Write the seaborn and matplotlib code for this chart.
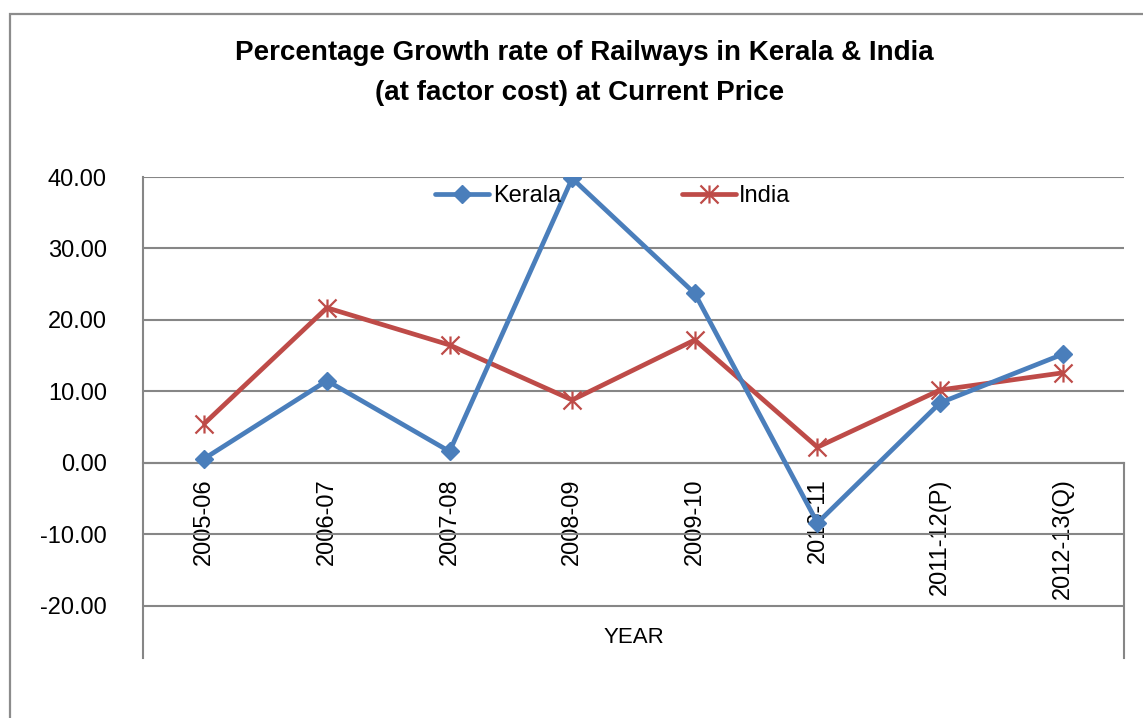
import numpy as np
import pandas as pd
import seaborn as sns
import matplotlib
matplotlib.use("Agg")
import matplotlib.pyplot as plt
from matplotlib.path import Path
from matplotlib.patches import Rectangle
from matplotlib.ticker import FuncFormatter

# ---- data ----
years = ["2005-06", "2006-07", "2007-08", "2008-09", "2009-10", "2010-11", "2011-12(P)", "2012-13(Q)"]
kerala = [0.6, 11.5, 1.6, 39.8, 23.7, -8.4, 8.4, 15.2]
india = [5.5, 21.7, 16.5, 8.8, 17.2, 2.2, 10.2, 12.6]
yticks = [-20, -10, 0, 10, 20, 30, 40]

title_l1 = "Percentage Growth rate of Railways in Kerala & India"
title_l2 = "(at factor cost) at Current Price"

sns.set_theme(style="white")
plt.rcParams['font.family'] = ['Liberation Sans', 'DejaVu Sans']
plt.rcParams['axes.unicode_minus'] = False

W, H = 1143, 718
fig = plt.figure(figsize=(W / 100, H / 100), dpi=100)
fig.patch.set_facecolor("white")

left_px, right_px, top_px, bot_px = 143, 1124, 177, 658
ax = fig.add_axes([left_px / W, 1 - bot_px / H, (right_px - left_px) / W, (bot_px - top_px) / H])
ax.set_facecolor("white")

grid_c = "#868686"
blue = "#4A7EBB"
red = "#BE4B48"

xpos = np.arange(len(years))
df = pd.DataFrame({"x": xpos, "Kerala": kerala, "India": india})

star = Path([(-1, -1), (1, 1), (-1, 1), (1, -1), (0, -1), (0, 1)],
            [Path.MOVETO, Path.LINETO, Path.MOVETO, Path.LINETO, Path.MOVETO, Path.LINETO])

sns.lineplot(data=df, x="x", y="Kerala", ax=ax, color=blue, lw=3.4, marker="D",
             markersize=9.5, markeredgecolor=blue, markeredgewidth=1, label="Kerala", zorder=4)
sns.lineplot(data=df, x="x", y="India", ax=ax, color=red, lw=3.4, marker=star,
             markersize=13, markeredgecolor=red, markeredgewidth=1.6, markerfacecolor="none",
             label="India", zorder=3)

ymin = -27.3
for s in ["left", "right", "bottom"]:
    ax.spines[s].set_color(grid_c)
    ax.spines[s].set_linewidth(1.5)
ax.spines["top"].set_visible(False)
ax.spines["bottom"].set_position(("data", 0))
ax.spines["right"].set_bounds(ymin, 0)

ax.set_ylim(ymin, 40)
ax.set_xlim(-0.5, len(years) - 0.5)
ax.set_yticks(yticks)
ax.yaxis.set_major_formatter(FuncFormatter(lambda v, p: f"{v:.2f}"))
ax.set_xticks(xpos)
ax.set_xticklabels(years)
ax.tick_params(axis="y", length=0, pad=26, labelsize=17, labelcolor="black")
ax.tick_params(axis="x", length=0, pad=11, labelsize=17, labelcolor="black", labelrotation=90)
for lab in ax.get_xticklabels():
    lab.set_va("top")
    lab.set_ha("center")

ax.grid(axis="y", color=grid_c, lw=1.5)
ax.grid(axis="x", visible=False)
ax.set_axisbelow(True)

ax.set_xlabel("")
ax.set_ylabel("")
ax.text(0.5, 0.042, "YEAR", transform=ax.transAxes, ha="center", va="center", fontsize=16, color="black")

leg = ax.legend(loc="center left", bbox_to_anchor=((435 - left_px) / (right_px - left_px), (bot_px - 196) / (bot_px - top_px)),
                ncol=2, frameon=False, fontsize=17, handlelength=2.3, handletextpad=0.15,
                columnspacing=5.1, borderpad=0, borderaxespad=0)
for t in leg.get_texts():
    t.set_color("black")

fig.text(584 / W, 1 - 53 / H, title_l1, ha="center", va="center", fontsize=20, fontweight="bold", color="black")
fig.text(580 / W, 1 - 93 / H, title_l2, ha="center", va="center", fontsize=20, fontweight="bold", color="black")

fig.patches.append(Rectangle((10 / W, -0.5), 2, 0.5 + 1 - 14 / H, transform=fig.transFigure,
                             fill=False, edgecolor="#8C8C8C", lw=1.6, figure=fig))

fig.savefig("out.png", dpi=100, facecolor="white")
